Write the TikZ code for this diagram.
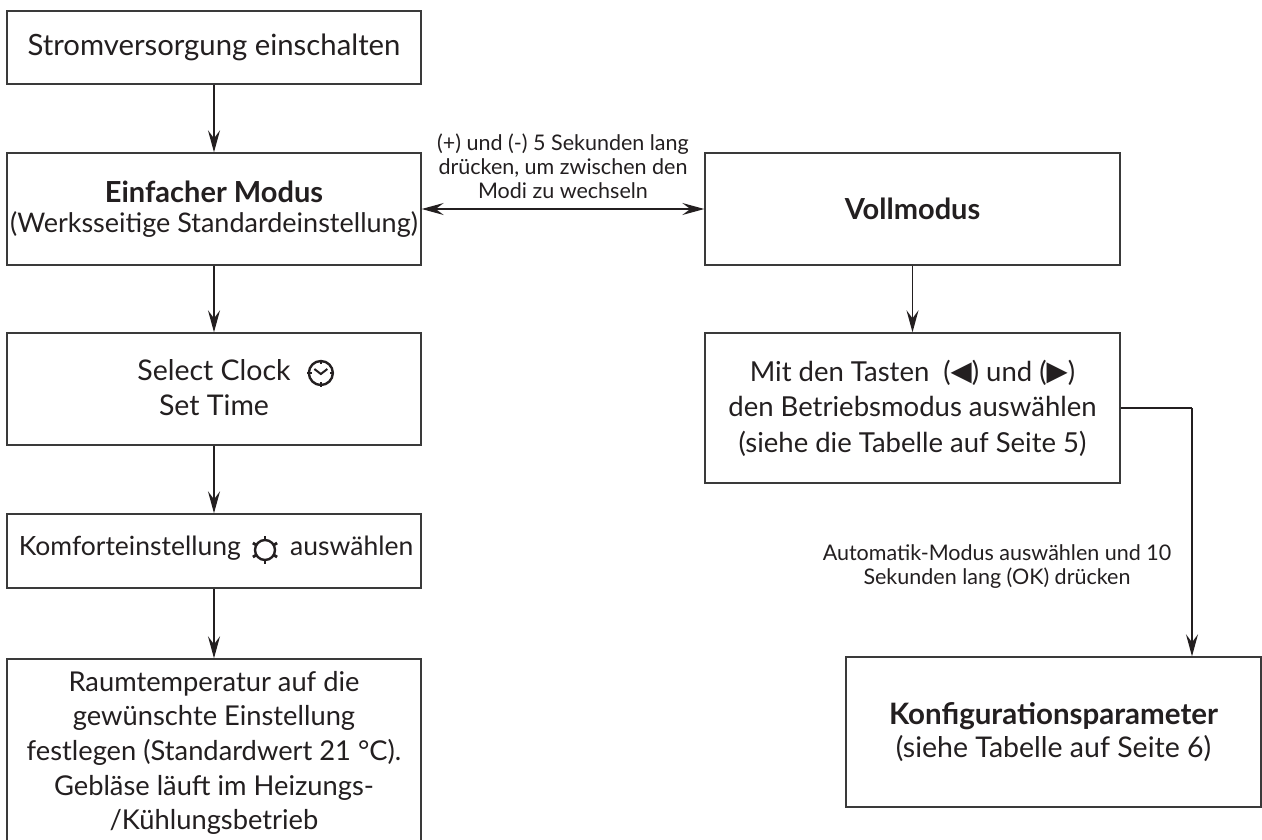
\documentclass[tikz,border=0pt]{standalone}
\usepackage{fontspec}
\setmainfont{Lato}
\newfontfamily\symf{DejaVu Sans}
\usetikzlibrary{arrows.meta}
\definecolor{ink}{HTML}{231F20}
\definecolor{frame}{HTML}{3A3A3A}
\begin{document}
\begin{tikzpicture}[x=1pt,y=-1pt,
  box/.style={draw=frame, line width=1.4pt, inner sep=0pt, align=center,
    text=ink, font=\fontsize{28}{35}\selectfont},
  txt/.style={inner sep=0pt, text=ink, font=\fontsize{28.5}{35}\selectfont},
  small/.style={inner sep=0pt, align=center, text=ink, font=\fontsize{21.5}{24}\selectfont},
  arr/.style={draw=ink, line width=1.3pt, -{Stealth[length=22pt,width=12pt,inset=8pt]}},
  dbl/.style={draw=ink, line width=1.3pt, {Stealth[length=22pt,width=12pt,inset=8pt]}-{Stealth[length=22pt,width=12pt,inset=8pt]}},
  conn/.style={draw=ink, line width=1.3pt},
  icon/.style={draw=ink, line width=2.4pt}]
\useasboundingbox (0,0) rectangle (1262,839);
\fill[white] (0,0) rectangle (1262,839);

% left column
\node[box, minimum width=414pt, minimum height=73pt, font=\fontsize{29.3}{35}\selectfont] (b1) at (214,47.5) {Stromversorgung einschalten};
\node[box, minimum width=414pt, minimum height=112pt, font=\fontsize{27}{35}\selectfont] (b2) at (214,209)
  {{\fontsize{29}{35}\selectfont\bfseries Einfacher Modus}\\[-5pt](Werksseitige Standardeinstellung)};
\node[box, minimum width=414pt, minimum height=112pt] (b4) at (214,389) {};
\node[txt, anchor=base] (sc) at (214,380) {Select Clock};
\node[txt, anchor=base] (st) at (214,415) {Set Time};
\node[box, minimum width=414pt, minimum height=74pt] (b5) at (214,551) {};
\coordinate (kic) at (265,550);
\node[txt, anchor=base east, font=\fontsize{26.5}{35}\selectfont] (k1) at ([xshift=-24pt,yshift=-5pt]kic) {Komforteinstellung};
\node[txt, anchor=base west, font=\fontsize{26.5}{35}\selectfont] (k2) at ([xshift=25pt,yshift=-5pt]kic) {auswählen};
\node[box, minimum width=414pt, minimum height=188pt, font=\fontsize{27.3}{34.7}\selectfont] (b6) at (214,753)
  {Raumtemperatur auf die\\gewünschte Einstellung\\festlegen (Standardwert 21 °C).\\Gebläse läuft im Heizungs-\\/Kühlungsbetrieb};

% right column
\node[box, minimum width=415pt, minimum height=112pt, font=\fontsize{29}{35}\selectfont\bfseries] (b3) at (912.5,209) {Vollmodus};
\node[box, minimum width=415pt, minimum height=150pt, font=\fontsize{27.5}{35.5}\selectfont] (b7) at (912.5,408)
  {Mit den Tasten\ \ ({\symf\raisebox{1pt}{◀}}) und ({\symf\raisebox{1pt}{▶}})\\den Betriebsmodus auswählen\\(siehe die Tabelle auf Seite 5)};
\node[box, minimum width=415pt, minimum height=150pt, font=\fontsize{28.5}{35}\selectfont] (b8) at (1053.5,732)
  {{\fontsize{29.5}{35}\selectfont\bfseries Konfigurationsparameter}\\[-2pt](siehe Tabelle auf Seite 6)};

% labels
\node[small] (l1) at (563,166) {(+) und (-) 5 Sekunden lang\\drücken, um zwischen den\\Modi zu wechseln};
\node[small] (l2) at (997,567) {Automatik-Modus auswählen und 10\\Sekunden lang (OK) drücken};

% icons
\coordinate (clk) at ([xshift=30pt,yshift=7pt]sc.base east);
\draw[icon] (clk) circle (12pt);
\draw[icon, line width=2pt] ([xshift=-6.5pt,yshift=4pt]clk) -- ([yshift=-1pt]clk) -- ([xshift=6.5pt,yshift=4pt]clk);
\foreach \a in {0,90,180,270}
  \draw[icon, line width=2.4pt] ([shift={(\a:9pt)}]clk) -- ([shift={(\a:13.5pt)}]clk);
\draw[icon] (kic) circle (10pt);
\foreach \a in {30,90,150,210,270,330}
  \draw[icon, line width=2.8pt] ([shift={(\a:9.5pt)}]kic) -- ([shift={(\a:14pt)}]kic);

% connectors
\draw[arr] (b1) -- (b2);
\draw[arr] (b2) -- (b4);
\draw[arr] (b4) -- (b5);
\draw[arr] (b5) -- (b6.north);
\draw[dbl] (b2.east) -- (b3.west);
\draw[arr] (b3) -- (b7);
\coordinate (bend) at (1192,408);
\draw[conn] (b7.east) -- (bend);
\draw[arr] (bend) -- (bend |- b8.north);
\end{tikzpicture}
\end{document}
